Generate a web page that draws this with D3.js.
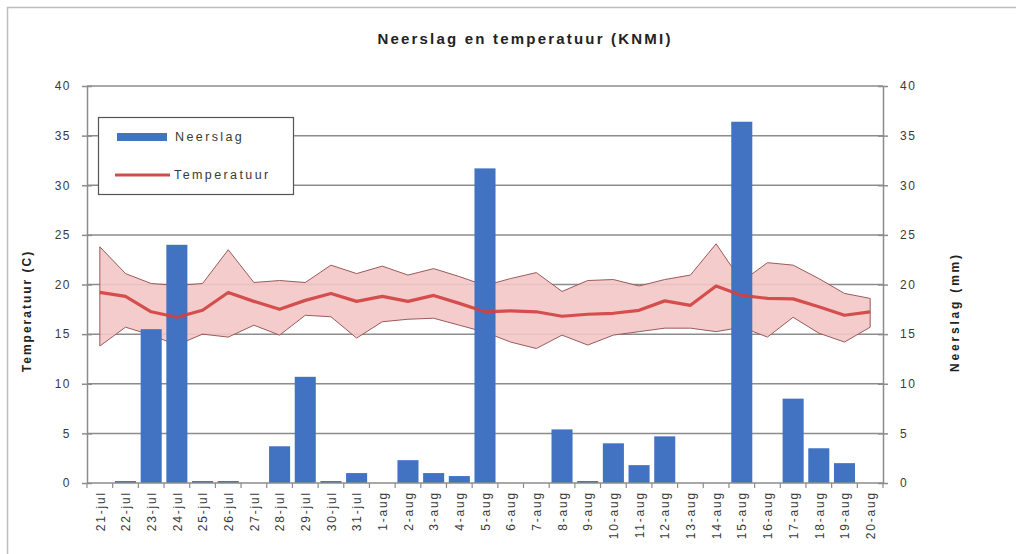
<!DOCTYPE html>
<html><head><meta charset="utf-8">
<script src="https://cdn.jsdelivr.net/npm/d3@7"></script>
<style>
html,body{margin:0;padding:0;background:#fff;}
svg{display:block;font-family:"Liberation Sans",Arial,sans-serif;}
</style></head>
<body>
<svg id="chart" width="1023" height="554"></svg>
<script>
const categories = ["21-jul","22-jul","23-jul","24-jul","25-jul","26-jul","27-jul","28-jul","29-jul","30-jul","31-jul",
"1-aug","2-aug","3-aug","4-aug","5-aug","6-aug","7-aug","8-aug","9-aug","10-aug","11-aug","12-aug","13-aug","14-aug",
"15-aug","16-aug","17-aug","18-aug","19-aug","20-aug"];
const neerslag = [0,0.2,15.5,24.0,0.2,0.2,0,3.7,10.7,0.2,1.0,0,2.3,1.0,0.7,31.7,0,0,5.4,0.2,4.0,1.8,4.7,0,0,36.4,0,8.5,3.5,2.0,0];
const tempGem = [19.2,18.8,17.25,16.7,17.4,19.2,18.3,17.5,18.4,19.1,18.3,18.8,18.3,18.9,18.1,17.25,17.35,17.25,16.8,17.0,17.1,17.4,18.35,17.9,19.85,18.9,18.6,18.55,17.75,16.9,17.25];
const tempMax = [23.8,21.1,20.1,19.9,20.1,23.5,20.2,20.4,20.2,21.95,21.1,21.85,20.95,21.6,20.8,19.9,20.6,21.2,19.3,20.4,20.5,19.85,20.5,20.95,24.1,20.3,22.2,21.95,20.6,19.1,18.6];
const tempMin = [13.8,15.7,14.9,13.9,15.0,14.7,15.9,14.9,16.9,16.75,14.6,16.25,16.5,16.6,15.9,15.2,14.2,13.55,14.9,13.9,14.9,15.25,15.6,15.6,15.25,15.7,14.7,16.7,15.1,14.2,15.7];
const yTicks = [0,5,10,15,20,25,30,35,40];
const title = "Neerslag en temperatuur (KNMI)";
const leftTitle = "Temperatuur (C)";
const rightTitle = "Neerslag (mm)";
const legendLabels = ["Neerslag","Temperatuur"];

const svg = d3.select("#chart");
const L = 87, R = 883, T = 86, B = 483;
const x = d3.scaleBand().domain(categories).range([L, R]).paddingInner(0.18).paddingOuter(0.09);
const xp = d3.scalePoint().domain(categories).range([L, R]).padding(0.5);
const yT = d3.scaleLinear().domain([0, 40]).range([B, T]);
const yN = d3.scaleLinear().domain([0, 40]).range([B, T]);

const textCol = "#3a3a3a";
const gridCol = "#8c8c8c";
const ff = "Liberation Sans, Arial, sans-serif";

// outer frame
svg.append("path").attr("d", `M7.5,560 V7.5 H1016`).attr("fill","none").attr("stroke","#bdbdbd").attr("stroke-width",1.5);

// title
svg.append("text").attr("x", 525).attr("y", 44).attr("text-anchor","middle")
  .attr("font-size", 15).attr("font-weight","bold").attr("fill","#222").attr("letter-spacing", "2.2")
  .text(title);

// gridlines
svg.append("g").selectAll("line").data(yTicks.filter(d=>d>0)).join("line")
  .attr("x1", L).attr("x2", R).attr("y1", d=>yT(d)).attr("y2", d=>yT(d))
  .attr("stroke", gridCol).attr("stroke-width", 1.5);

// temperature band
const band = d3.area().x((d,i)=>xp(categories[i])).y0((d,i)=>yT(tempMin[i])).y1((d,i)=>yT(tempMax[i]));
svg.append("path").datum(categories).attr("d", band)
  .attr("fill", "#f3c6c6").attr("fill-opacity", 0.9)
  .attr("stroke", "#9c5a5a").attr("stroke-width", 1);

// bars
svg.append("g").selectAll("rect").data(neerslag).join("rect")
  .attr("x", (d,i)=>x(categories[i])).attr("width", x.bandwidth())
  .attr("y", d=>yN(d)).attr("height", d=>B - yN(d))
  .attr("fill", "#4273c3");

// mean temperature line
const line = d3.line().x((d,i)=>xp(categories[i])).y(d=>yT(d));
svg.append("path").datum(tempGem).attr("d", line)
  .attr("fill","none").attr("stroke","#d0403f").attr("stroke-width", 3.2).attr("stroke-opacity", 0.9)
  .attr("stroke-linejoin","round");

// left axis
const leftAxis = d3.axisLeft(yT).tickValues(yTicks).tickSizeInner(5).tickSizeOuter(0).tickPadding(11);
const gl = svg.append("g").attr("transform", `translate(${L},0)`).call(leftAxis);
gl.select(".domain").attr("stroke", gridCol).attr("stroke-width", 1.5);
gl.selectAll(".tick line").attr("stroke", gridCol).attr("stroke-width", 1.5).attr("x2", 5).attr("x1", -5);
gl.selectAll(".tick text").attr("font-size", 12).attr("letter-spacing", "1.5").attr("fill", textCol).attr("font-family", ff);

// right axis
const rightAxis = d3.axisRight(yN).tickValues(yTicks).tickSizeInner(5).tickSizeOuter(0).tickPadding(12);
const gr = svg.append("g").attr("transform", `translate(${R},0)`).call(rightAxis);
gr.select(".domain").attr("stroke", gridCol).attr("stroke-width", 1.5);
gr.selectAll(".tick line").attr("stroke", gridCol).attr("stroke-width", 1.5).attr("x1", -5).attr("x2", 5);
gr.selectAll(".tick text").attr("font-size", 12).attr("letter-spacing", "1.5").attr("fill", textCol).attr("font-family", ff);

// bottom axis
const xAxis = d3.axisBottom(xp).tickSize(0).tickPadding(0);
const gb = svg.append("g").attr("transform", `translate(0,${B})`).call(xAxis);
gb.select(".domain").remove();
svg.append("line").attr("x1", L).attr("x2", R).attr("y1", B).attr("y2", B).attr("stroke", gridCol).attr("stroke-width", 1.5);
const bounds = categories.map(c => x(c) - x.step()*x.paddingInner()/2).concat([R]);
svg.append("g").selectAll("line").data(bounds).join("line")
  .attr("x1", d=>d).attr("x2", d=>d).attr("y1", B).attr("y2", B+5)
  .attr("stroke", gridCol).attr("stroke-width", 1.2);
gb.selectAll(".tick text")
  .attr("font-size", 12).attr("letter-spacing", "1.8").attr("fill", textCol).attr("font-family", ff)
  .attr("text-anchor","end").attr("dy","0.35em")
  .attr("transform", "translate(0,8) rotate(-90)").attr("x", 0).attr("y", 0);

// axis titles
svg.append("text").attr("transform", "translate(31,311) rotate(-90)").attr("text-anchor","middle")
  .attr("font-size", 12).attr("font-weight","bold").attr("letter-spacing", "2").attr("fill","#222").text(leftTitle);
svg.append("text").attr("transform", "translate(959,312) rotate(-90)").attr("text-anchor","middle")
  .attr("font-size", 12).attr("font-weight","bold").attr("letter-spacing", "2.8").attr("fill","#222").text(rightTitle);

// legend
const lg = svg.append("g");
lg.append("rect").attr("x", 98.5).attr("y", 117.5).attr("width", 195).attr("height", 77)
  .attr("fill", "#fff").attr("stroke", "#555").attr("stroke-width", 1.2);
lg.append("rect").attr("x", 117).attr("y", 133).attr("width", 50).attr("height", 8).attr("fill", "#4273c3");
lg.append("line").attr("x1", 115).attr("x2", 170).attr("y1", 175).attr("y2", 175)
  .attr("stroke", "#c9504d").attr("stroke-width", 3.2);
lg.append("text").attr("x", 175).attr("y", 141).attr("font-size", 12.5).attr("letter-spacing", "2.4").attr("fill", textCol).text(legendLabels[0]);
lg.append("text").attr("x", 174).attr("y", 179).attr("font-size", 12.5).attr("letter-spacing", "2.4").attr("fill", textCol).text(legendLabels[1]);
</script>
</body></html>
